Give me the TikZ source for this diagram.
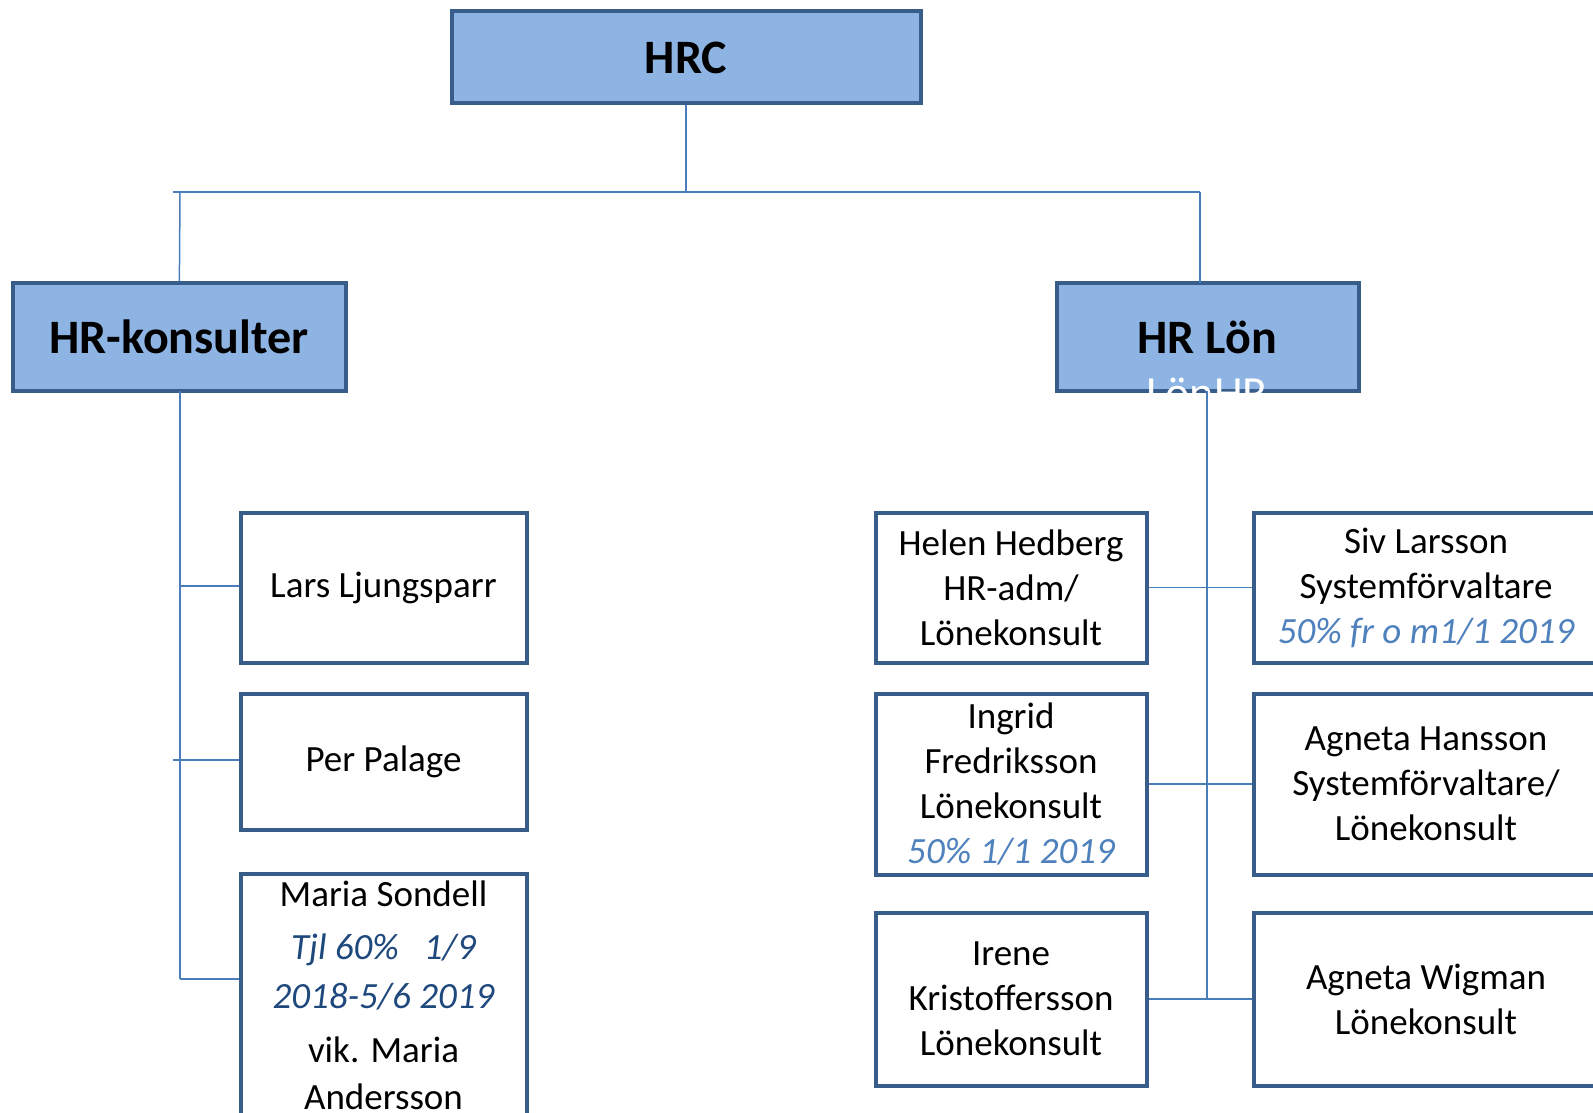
\documentclass[tikz,border=0pt]{standalone}
\usepackage{fontspec}
\setmainfont{Carlito}
\usepackage{xcolor}
\definecolor{boxline}{HTML}{385D8A}
\definecolor{unitfill}{HTML}{8EB4E3}
\definecolor{linkblue}{HTML}{4A7EBB}
\definecolor{notelight}{HTML}{4F81BD}
\definecolor{notedark}{HTML}{1F497D}

\begin{document}
\begin{tikzpicture}[x=0.5pt,y=-0.5pt]
  \tikzset{unit/.style={rectangle, draw=boxline, line width=2pt, fill=unitfill, inner sep=0pt, font=\bfseries\fontsize{24}{29}\selectfont}}
  \tikzset{person/.style={rectangle, draw=boxline, line width=2pt, fill=white, inner sep=0pt, align=center, font=\fontsize{18.5}{22.5}\selectfont}}
  \tikzset{link/.style={draw=linkblue, line width=0.75pt}}

  \useasboundingbox (0,0) rectangle (1593,1112);
  \clip (0,0) rectangle (1593,1112);

  \node[unit, minimum width=234.5pt, minimum height=46pt] (hrc) at (686,57.5) {HRC};
  \node[unit, minimum width=166.5pt, minimum height=53.5pt] (hrk) at (179,337) {HR-konsulter};
  \node[unit, minimum width=151pt, minimum height=53.5pt] (hrl) at (1207.5,337) {HR Lön};
  \node[anchor=base, text=white, font=\fontsize{23}{27}\selectfont] (lonhr) at (1207,408) {LönHR};

  \node[person, minimum width=143pt, minimum height=75pt] (lars) at (383.5,588) {Lars Ljungsparr};
  \node[person, minimum width=143pt, minimum height=68pt] (per) at (383.5,761.5) {Per Palage};
  \node[person, minimum width=143pt, anchor=north, inner ysep=3.5pt] (maria) at (383.5,872) {Maria Sondell\\[4pt]
    \textcolor{notedark}{\itshape Tjl 60\%~~~1/9}\\[2pt]
    \textcolor{notedark}{\itshape 2018-5/6 2019}\\[4.5pt]
    vik. Maria\\[1pt]
    Andersson\\[30pt]};

  \node[person, minimum width=135.5pt, minimum height=75pt] (helen) at (1011,587.5) {Helen Hedberg\\HR-adm/\\Lönekonsult};
  \node[person, minimum width=135.5pt, minimum height=90.5pt] (ingrid) at (1011,784) {Ingrid\\Fredriksson\\Lönekonsult\\\textcolor{notelight}{\itshape 50\% 1/1 2019}};
  \node[person, minimum width=135.5pt, minimum height=86.5pt] (irene) at (1011,999) {Irene\\Kristoffersson\\Lönekonsult};
  \node[person, minimum width=172.5pt, minimum height=75pt] (siv) at (1426,587.5) {Siv Larsson\\Systemförvaltare\\\textcolor{notelight}{\itshape 50\% fr o m1/1 2019}};
  \node[person, minimum width=172.5pt, minimum height=90.5pt] (agnetah) at (1426,784) {Agneta Hansson\\Systemförvaltare/\\Lönekonsult};
  \node[person, minimum width=172.5pt, minimum height=86.5pt] (agnetaw) at (1426,999) {Agneta Wigman\\Lönekonsult};

  \coordinate (top) at (686,192);
  \coordinate (topl) at (173,192);
  \coordinate (topr) at (1200,192);
  \coordinate (hrkin) at (180,192);
  \coordinate (hrlin) at (1200,283);
  \coordinate (hrkout) at (180,391);
  \coordinate (laj) at (180,586);
  \coordinate (pej) at (173,760);
  \coordinate (maj) at (180,979);
  \coordinate (hrlout) at (1207,391);
  \coordinate (hrlend) at (1207,998);

  \draw[link] (hrc) -- (top);
  \draw[link] (topl) -- (topr);
  \draw[link] (hrkin) -- (hrk);
  \draw[link] (topr) -- (hrlin);
  \draw[link] (hrkout) -- (maj);
  \draw[link] (laj) -- (lars.west |- laj);
  \draw[link] (pej) -- (per.west |- pej);
  \draw[link] (maj) -- (maria.west |- maj);
  \draw[link] (hrlout) -- (hrlend);
  \draw[link] (helen) -- (siv);
  \draw[link] (ingrid) -- (agnetah);
  \draw[link] (irene) -- (agnetaw);
\end{tikzpicture}
\end{document}
